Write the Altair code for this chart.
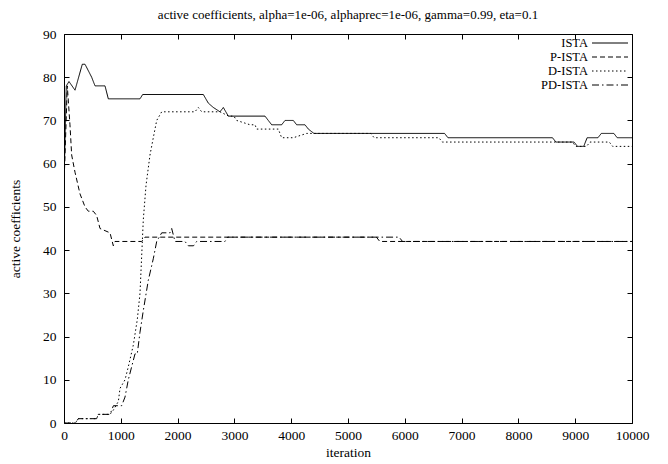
import altair as alt
import pandas as pd

series_names = ["ISTA", "P-ISTA", "D-ISTA", "PD-ISTA"]

ista_iter = [0, 40, 88, 194, 322, 370, 487, 546, 722, 780, 1338, 1385, 2453, 2541, 2629, 2746,
             2805, 2893, 2923, 3539, 3597, 3656, 3832, 3891, 4037, 4096, 4243, 4302, 4400, 6700,
             6760, 8600, 8660, 8980, 9040, 9150, 9210, 9400, 9460, 9680, 9740, 10000]
ista_vals = [55, 78, 79, 77, 83, 83, 80, 78, 78, 75, 75, 76, 76, 74, 73, 72,
             73, 71, 71, 71, 70, 69, 69, 70, 70, 69, 69, 68, 67, 67,
             66, 66, 65, 65, 64, 64, 66, 66, 67, 67, 66, 66]

pista_iter = [0, 58, 105, 135, 194, 282, 370, 428, 516, 575, 634, 810, 868, 898, 1368, 1426,
              5500, 5560, 10000]
pista_vals = [55, 78, 69, 62, 58, 53, 50, 49, 49, 48, 45, 44, 41, 42, 42, 43,
              43, 42, 42]

dista_iter = [0, 200, 252, 575, 604, 810, 870, 957, 986, 1074, 1132, 1220, 1291, 1338, 1396,
              1444, 1514, 1572, 1632, 1720, 2306, 2365, 2424, 2746, 2900, 2990, 3040, 3275, 3363,
              3392, 3773, 3832, 4037, 4272, 5400, 5460, 6600, 6660, 8950, 9010, 9200, 9260, 9600,
              9660, 10000]
dista_vals = [0, 0, 1, 1, 2, 2, 3, 5, 8, 10, 13, 18, 24, 30, 47,
              55, 62, 66, 70, 72, 72, 73, 72, 72, 71, 71, 70, 69, 69,
              68, 68, 66, 66, 67, 67, 66, 66, 65, 65, 64, 64, 65, 65,
              64, 64]

pdista_iter = [0, 200, 252, 575, 604, 810, 870, 990, 1015, 1074, 1132, 1191, 1250, 1290, 1338,
               1396, 1484, 1572, 1632, 1720, 1866, 1896, 1954, 2130, 2189, 2280, 2336, 2835, 2880,
               5900, 5960, 10000]
pdista_vals = [0, 0, 1, 1, 2, 2, 4, 4, 4, 6, 10, 13, 16, 16, 21,
               26, 33, 38, 42, 44, 44, 45, 42, 42, 41, 41, 42, 42, 43,
               43, 42, 42]

x_ticks = [0, 1000, 2000, 3000, 4000, 5000, 6000, 7000, 8000, 9000, 10000]
y_ticks = [0, 10, 20, 30, 40, 50, 60, 70, 80, 90]

title_text = "active coefficients, alpha=1e-06, alphaprec=1e-06, gamma=0.99, eta=0.1"

frames = []
for name, its, vals in zip(series_names,
                           [ista_iter, pista_iter, dista_iter, pdista_iter],
                           [ista_vals, pista_vals, dista_vals, pdista_vals]):
    frames.append(pd.DataFrame({"series": name, "iteration": its, "value": vals}))
df = pd.concat(frames, ignore_index=True)
legend_df = pd.DataFrame({"series": series_names})

FONT = "Liberation Serif"
FS = 13.5
W, H = 568, 389
dash_patterns = [[1, 0], [5, 3], [1.5, 2.5], [7, 3, 1.5, 3]]

xs = alt.Scale(domain=[0, 10000], nice=False, zero=False)
ys = alt.Scale(domain=[0, 90], nice=False, zero=False)
dash_scale = alt.Scale(domain=series_names, range=dash_patterns)

lines = alt.Chart(df).mark_line(color="black", strokeWidth=1, clip=True).encode(
    x=alt.X("iteration:Q", scale=xs,
            axis=alt.Axis(values=x_ticks, title="iteration", ticks=False, tickSize=0, domain=False,
                          grid=False, labelPadding=5, titlePadding=4, format="d",
                          labelFlush=False, labelOverlap=False,
                          labelFont=FONT, labelFontSize=FS, labelColor="black",
                          titleFont=FONT, titleFontSize=FS, titleFontWeight="normal",
                          titleColor="black")),
    y=alt.Y("value:Q", scale=ys,
            axis=alt.Axis(values=y_ticks, title="active coefficients", ticks=False, tickSize=0,
                          domain=False, grid=False, labelPadding=8, titlePadding=20,
                          labelFlush=False, labelOverlap=False,
                          labelFont=FONT, labelFontSize=FS, labelColor="black",
                          titleFont=FONT, titleFontSize=FS, titleFontWeight="normal",
                          titleColor="black")),
    strokeDash=alt.StrokeDash("series:N", scale=dash_scale, legend=None),
)

dummy = pd.DataFrame({"iteration": [0, 10000], "value": [0, 90]})


def tick_layer(xorient, yorient):
    return alt.Chart(dummy).mark_point(opacity=0).encode(
        x=alt.X("iteration:Q", scale=xs,
                axis=alt.Axis(orient=xorient, offset={"expr": "-5"}, tickSize=5, values=x_ticks,
                              labels=False, domain=False, grid=False, title=None,
                              tickColor="black", tickWidth=1)),
        y=alt.Y("value:Q", scale=ys,
                axis=alt.Axis(orient=yorient, offset={"expr": "-5"}, tickSize=5, values=y_ticks,
                              labels=False, domain=False, grid=False, title=None,
                              tickColor="black", tickWidth=1)),
    )


# key (legend) drawn inside the top-right corner, gnuplot style
key_y = alt.Y("series:N", scale=alt.Scale(type="point", domain=series_names,
                                          range=[9, 51], padding=0), axis=None)
key_lines = alt.Chart(legend_df).mark_rule(color="black", strokeWidth=1).encode(
    x=alt.value(528), x2=alt.value(564), y=key_y,
    strokeDash=alt.StrokeDash("series:N", scale=dash_scale, legend=None),
)
key_text = alt.Chart(legend_df).mark_text(
    align="right", baseline="middle", font=FONT, fontSize=12.5, color="black"
).encode(x=alt.value(524), y=key_y, text="series:N")

chart = alt.layer(
    lines, tick_layer("bottom", "left"), tick_layer("top", "right"), key_lines, key_text
).resolve_scale(
    x="independent", y="independent"
).properties(
    width=W, height=H,
    padding={"left": 56, "top": 26, "right": 28, "bottom": 41},
    autosize=alt.AutoSizeParams(type="none"),
    title=alt.TitleParams(text=title_text, font=FONT, fontSize=13, fontWeight="normal",
                          color="black", anchor="middle", offset=5),
).configure_view(stroke="black", strokeWidth=1)

chart.save("out.html", embed_options={"renderer": "svg", "actions": False})
